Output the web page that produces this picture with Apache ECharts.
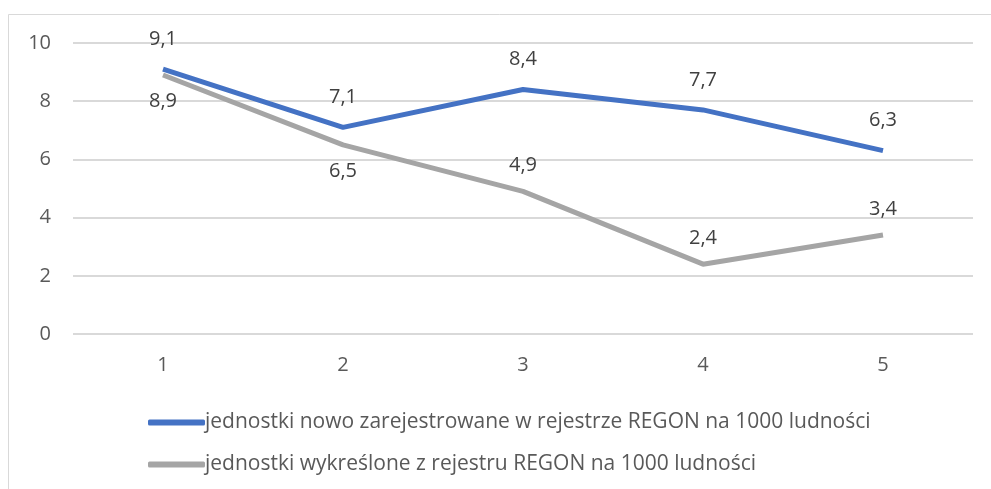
<!DOCTYPE html>
<html>
<head>
<meta charset="utf-8">
<script src="https://cdn.jsdelivr.net/npm/echarts@6/dist/echarts.min.js"></script>
<style>
  html, body { margin: 0; padding: 0; background: #fff; }
  #chart { width: 991px; height: 489px; }
</style>
</head>
<body>
<div id="chart"></div>
<script>
// dane z wykresu
const categories = ['1', '2', '3', '4', '5'];
const nowoZarejestrowane = [9.1, 7.1, 8.4, 7.7, 6.3];
const wykreslone = [8.9, 6.5, 4.9, 2.4, 3.4];
const seriesNames = [
    'jednostki nowo zarejestrowane w rejestrze REGON na 1000 ludności',
    'jednostki wykreślone z rejestru REGON na 1000 ludności'
];
// gdzie etykieta szarej serii ma być pod punktem
const grayLabelPos = ['bottom', 'bottom', 'top', 'top', 'top'];

const fmt = v => String(v).replace('.', ',');
const FONT = '"Open Sans", Lato, sans-serif';
const TEXT = '#595959';

const chart = echarts.init(document.getElementById('chart'));

const option = {
    animation: false,
    backgroundColor: '#fff',
    graphic: [{
        type: 'polyline',
        shape: { points: [[8.5, 489], [8.5, 14.5], [991, 14.5]] },
        style: { stroke: '#d9d9d9', lineWidth: 1, fill: null }
    }],
    grid: { left: 73, right: 18, top: 43, bottom: 155 },
    legend: {
        orient: 'vertical',
        left: 143,
        top: 407,
        itemWidth: 57,
        itemHeight: 6,
        itemGap: 21,
        icon: 'roundRect',
        textStyle: { color: TEXT, fontSize: 21, fontFamily: FONT, padding: [0, 0, 0, -5] },
        data: seriesNames
    },
    xAxis: {
        type: 'category',
        data: categories,
        boundaryGap: true,
        axisLine: { show: false },
        axisTick: { show: false },
        axisLabel: { color: TEXT, fontSize: 20, fontFamily: FONT, margin: 21 }
    },
    yAxis: {
        type: 'value',
        min: 0,
        max: 10,
        interval: 2,
        axisLine: { show: false },
        axisTick: { show: false },
        axisLabel: { color: TEXT, fontSize: 20, fontFamily: FONT, margin: 22 },
        splitLine: { lineStyle: { color: '#d9d9d9', width: 2 } }
    },
    series: [
        {
            name: seriesNames[0],
            type: 'line',
            data: nowoZarejestrowane,
            symbol: 'circle',
            symbolSize: 0,
            showSymbol: true,
            lineStyle: { color: '#4472C4', width: 5 },
            itemStyle: { color: '#4472C4' },
            label: {
                show: true, position: 'top', distance: 20,
                color: '#404040', fontSize: 20, fontFamily: FONT,
                formatter: p => fmt(p.value)
            }
        },
        {
            name: seriesNames[1],
            type: 'line',
            data: wykreslone.map((v, i) => ({
                value: v,
                label: { position: grayLabelPos[i] }
            })),
            symbol: 'circle',
            symbolSize: 0,
            showSymbol: true,
            lineStyle: { color: '#A5A5A5', width: 5 },
            itemStyle: { color: '#A5A5A5' },
            label: {
                show: true, distance: 16,
                color: '#404040', fontSize: 20, fontFamily: FONT,
                formatter: p => fmt(p.value)
            }
        }
    ]
};

chart.setOption(option);
window.addEventListener('resize', () => chart.resize());
</script>
</body>
</html>
